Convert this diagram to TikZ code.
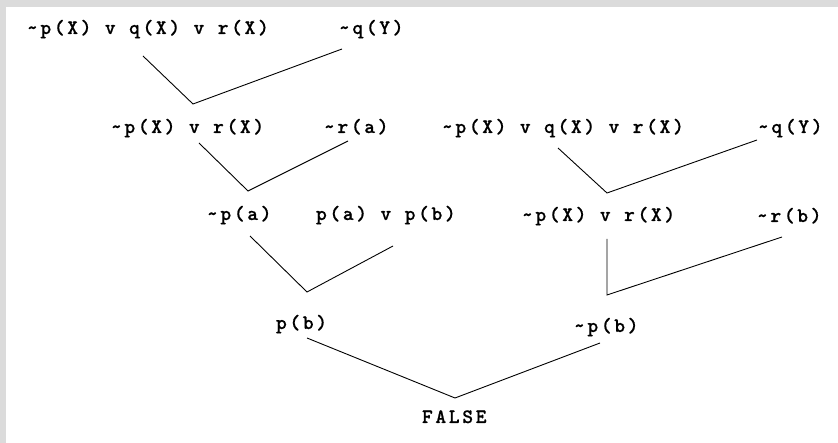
\documentclass[tikz,border=0pt]{standalone}
\usepackage{fontspec}
% typewriter clause font, spaced out like a wide courier
\newfontfamily\clausefont{lmmonolt10-bold.otf}[LetterSpace=13,FakeBold=0.6]
\begin{document}
\begin{tikzpicture}[x=1pt,y=-1pt,
  clause/.style={anchor=base west,inner sep=0pt,outer sep=0pt,
    font=\clausefont\fontsize{20.5}{24}\selectfont},
  link/.style={line width=0.9pt,line join=miter}]
% frame
\fill[gray!28] (0,0) rectangle (838,443);
\fill[white] (6,7) rectangle (838,443);
\useasboundingbox (0,0) rectangle (838,443);

% clauses
\node[clause] (c1) at (27,34) {\textasciitilde p(X) v q(X) v r(X)};
\node[clause] (c2) at (339,34) {\textasciitilde q(Y)};
\node[clause] (c3) at (111,133) {\textasciitilde p(X) v r(X)};
\node[clause] (c4) at (324,133) {\textasciitilde r(a)};
\node[clause] (c5) at (442,133) {\textasciitilde p(X) v q(X) v r(X)};
\node[clause] (c6) at (758,133) {\textasciitilde q(Y)};
\node[clause] (c7) at (207,220) {\textasciitilde p(a)};
\node[clause] (c8) at (316,220) {p(a) v p(b)};
\node[clause] (c9) at (522,221) {\textasciitilde p(X) v r(X)};
\node[clause] (c10) at (757,222) {\textasciitilde r(b)};
\node[clause] (c11) at (276,329) {p(b)};
\node[clause] (c12) at (574,332) {\textasciitilde p(b)};
\node[clause] (c13) at (422,423) {FALSE};

% connector end points below the parent clauses
\coordinate (s1) at (143,56);   \coordinate (t1) at (342,49);
\coordinate (s2) at (199,143);  \coordinate (t2) at (348,141);
\coordinate (s3) at (558,148);  \coordinate (t3) at (757,140);
\coordinate (s4) at (250,236);  \coordinate (t4) at (393,246);
\coordinate (s5) at (607,239);  \coordinate (t5) at (782,237);
\coordinate (s6) at (307,338);  \coordinate (t6) at (600,343);
% meeting points above the resolvents
\coordinate (v1) at (193,104);
\coordinate (v2) at (248,191);
\coordinate (v3) at (607,193);
\coordinate (v4) at (307,292);
\coordinate (v5) at (607,295);
\coordinate (v6) at (455,398);

\draw[link] (s1) -- (v1) -- (t1);
\draw[link] (s2) -- (v2) -- (t2);
\draw[link] (s3) -- (v3) -- (t3);
\draw[link] (s4) -- (v4) -- (t4);
\draw[link] (s5) -- (v5) -- (t5);
\draw[link] (s6) -- (v6) -- (t6);
\end{tikzpicture}
\end{document}
